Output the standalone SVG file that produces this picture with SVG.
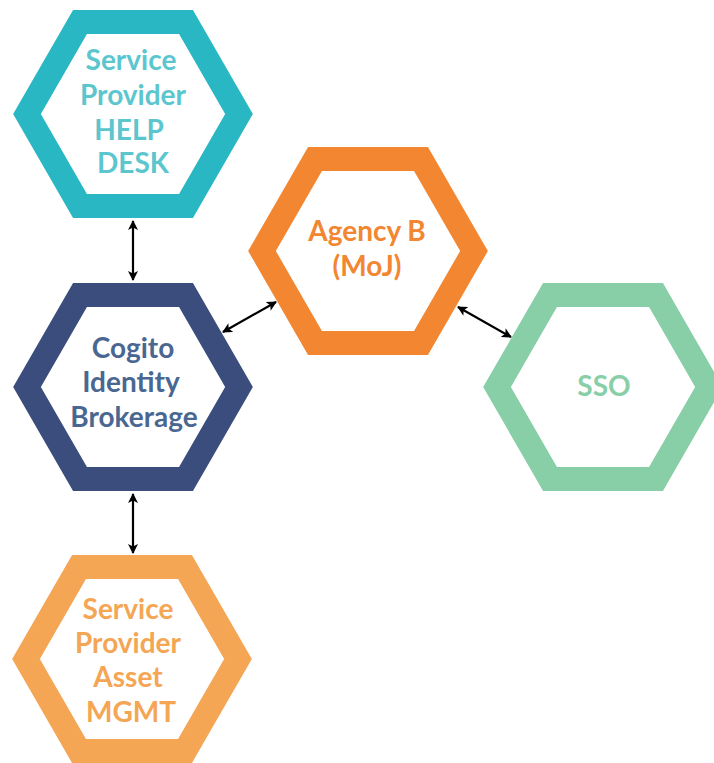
<svg xmlns="http://www.w3.org/2000/svg" width="714" height="763" viewBox="0 0 714 763">
<style>
.hex{fill:none;stroke-width:24;stroke-linejoin:miter}
.t{font-family:Lato,"Open Sans","Liberation Sans",sans-serif;font-weight:bold;font-size:28px;text-anchor:middle}
.c{stroke:#000;stroke-width:2.2;fill:none;marker-start:url(#a);marker-end:url(#a)}
</style>
<defs>
<marker id="a" viewBox="0 0 10 10" refX="9" refY="5" markerWidth="10" markerHeight="10" markerUnits="userSpaceOnUse" orient="auto-start-reverse">
<path d="M0,0 L10,5 L0,10 L2.5,5 Z" fill="#000"/>
</marker>
<polygon id="h" points="-106,0 -53,-92 53,-92 106,0 53,92 -53,92"/>
</defs>
<rect width="714" height="763" fill="#fff"/>
<g id="connectors">
<line class="c" x1="133" y1="221" x2="133" y2="280"/>
<line class="c" x1="133" y1="494" x2="133" y2="553"/>
<line class="c" x1="223" y1="332" x2="276" y2="302"/>
<line class="c" x1="458" y1="307" x2="511" y2="337"/>
</g>
<g id="helpdesk">
<use href="#h" class="hex" stroke="#2AB7C4" transform="translate(133,114)"/>
<text class="t" fill="#5CC6CF"><tspan x="131" y="70">Service</tspan><tspan x="133" y="105">Provider</tspan><tspan x="129" y="140">HELP</tspan><tspan x="133" y="173">DESK</tspan></text>
</g>
<g id="agencyb">
<use href="#h" class="hex" stroke="#F28631" transform="translate(368,251)"/>
<text class="t" fill="#F28631"><tspan x="367" y="241">Agency B</tspan><tspan x="367" y="276">(MoJ)</tspan></text>
</g>
<g id="sso">
<use href="#h" class="hex" stroke="#88CFA8" transform="translate(603,387)"/>
<text class="t" fill="#88CFA8" x="604" y="396">SSO</text>
</g>
<g id="cogito">
<use href="#h" class="hex" stroke="#3A4D7C" transform="translate(133,387)"/>
<text class="t" fill="#4A6792"><tspan x="133" y="358">Cogito</tspan><tspan x="131" y="392">Identity</tspan><tspan x="134" y="427">Brokerage</tspan></text>
</g>
<g id="asset">
<use href="#h" class="hex" stroke="#F4A655" transform="translate(132,659)"/>
<text class="t" fill="#F4A655"><tspan x="128" y="619">Service</tspan><tspan x="128" y="653">Provider</tspan><tspan x="128" y="687">Asset</tspan><tspan x="131" y="722">MGMT</tspan></text>
</g>
</svg>
